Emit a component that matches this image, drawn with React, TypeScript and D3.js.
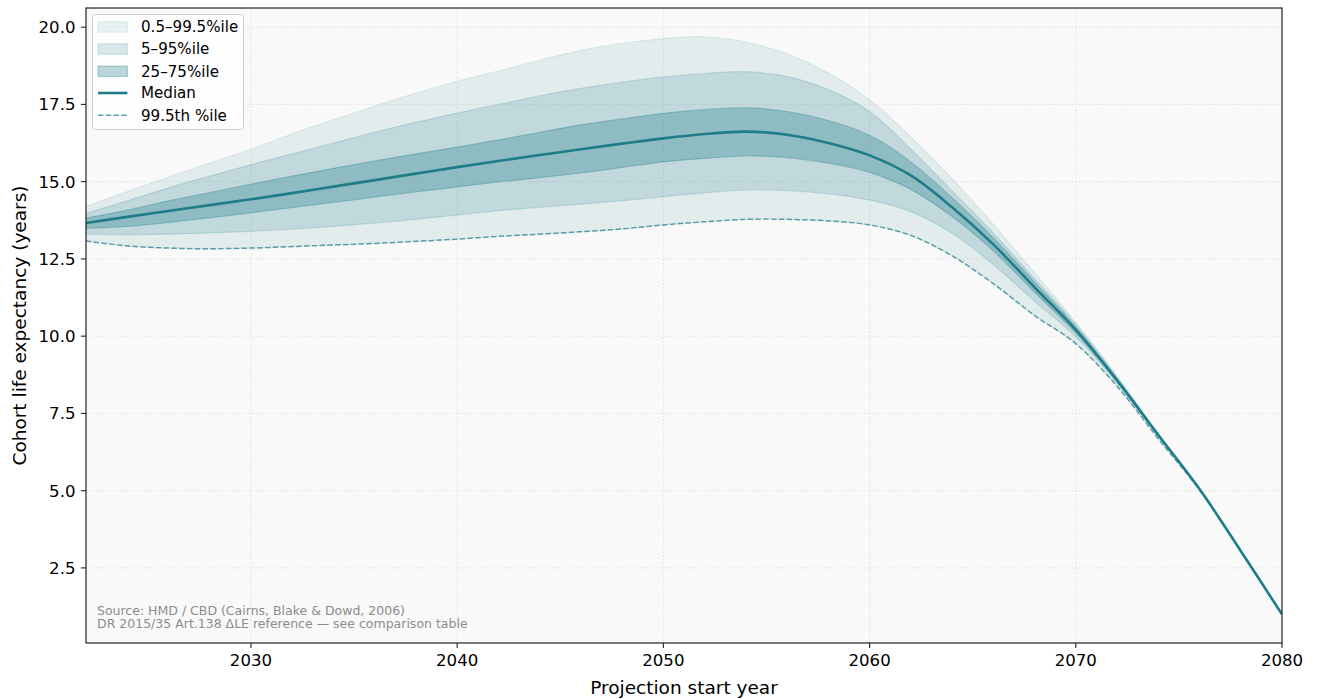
import React from "react";
import * as d3 from "d3";

const years = [2022, 2024, 2026, 2028, 2030, 2032, 2034, 2036, 2038, 2040, 2042, 2044, 2046, 2048, 2050, 2052, 2054, 2056, 2058, 2060, 2062, 2064, 2066, 2068, 2070, 2072, 2074, 2076, 2078, 2080];
const p995 = [14.2, 14.68, 15.15, 15.6, 16.05, 16.55, 17.0, 17.45, 17.87, 18.25, 18.58, 18.93, 19.25, 19.48, 19.63, 19.69, 19.52, 19.14, 18.52, 17.65, 16.45, 15.1, 13.62, 12.05, 10.45, 8.72, 6.86, 5.05, 3.05, 1.0];
const p95 = [13.97, 14.38, 14.8, 15.18, 15.55, 15.9, 16.25, 16.6, 16.92, 17.22, 17.5, 17.78, 18.02, 18.22, 18.39, 18.5, 18.56, 18.4, 17.98, 17.27, 16.05, 14.7, 13.33, 11.86, 10.38, 8.67, 6.83, 5.05, 3.05, 1.0];
const p75 = [13.82, 14.08, 14.38, 14.65, 14.92, 15.18, 15.43, 15.67, 15.9, 16.12, 16.35, 16.6, 16.84, 17.03, 17.21, 17.33, 17.39, 17.27, 16.98, 16.5, 15.64, 14.48, 13.18, 11.75, 10.3, 8.62, 6.81, 5.05, 3.05, 1.0];
const median = [13.66, 13.86, 14.05, 14.24, 14.43, 14.63, 14.84, 15.05, 15.26, 15.47, 15.67, 15.86, 16.05, 16.23, 16.4, 16.54, 16.62, 16.52, 16.25, 15.85, 15.2, 14.17, 12.97, 11.58, 10.2, 8.57, 6.8, 5.05, 3.05, 1.0];
const p25 = [13.49, 13.55, 13.68, 13.83, 13.99, 14.16, 14.33, 14.5, 14.67, 14.83, 14.99, 15.13, 15.28, 15.46, 15.64, 15.75, 15.83, 15.78, 15.6, 15.3, 14.75, 13.87, 12.76, 11.42, 10.1, 8.53, 6.78, 5.05, 3.05, 1.0];
const p5 = [13.3, 13.28, 13.3, 13.34, 13.39, 13.46, 13.55, 13.66, 13.78, 13.92, 14.06, 14.17, 14.27, 14.38, 14.51, 14.64, 14.73, 14.71, 14.6, 14.4, 14.03, 13.33, 12.32, 11.13, 9.98, 8.48, 6.76, 5.05, 3.05, 1.0];
const p005 = [13.08, 12.92, 12.85, 12.83, 12.85, 12.9, 12.95, 13.0, 13.07, 13.14, 13.23, 13.3, 13.38, 13.47, 13.6, 13.7, 13.78, 13.78, 13.73, 13.6, 13.26, 12.6, 11.7, 10.67, 9.76, 8.38, 6.68, 5.02, 3.05, 1.0];

const xTicks = [2030, 2040, 2050, 2060, 2070, 2080];
const yTicks = [2.5, 5.0, 7.5, 10.0, 12.5, 15.0, 17.5, 20.0];
const legendLabels = ["0.5–99.5%ile", "5–95%ile", "25–75%ile", "Median", "99.5th %ile"];
const sourceLines = ["Source: HMD / CBD (Cairns, Blake & Dowd, 2006)", "DR 2015/35 Art.138 ΔLE reference — see comparison table"];

const W = 1317, H = 699;
const L = 86, R = 1282, T = 8, B = 643;
const TEAL = "#1f7c89";
const FONT = "DejaVu Sans, sans-serif";

export default function App() {
  const x = d3.scaleLinear().domain([2022, 2080]).range([L, R]);
  const y = d3.scaleLinear().domain([0.07, 20.62]).range([B, T]);
  const curve = d3.curveCatmullRom.alpha(0.5);
  const band = (lo: number[], hi: number[]) =>
    d3.area<number>().x((_, i) => x(years[i])).y0((_, i) => y(lo[i])).y1((_, i) => y(hi[i])).curve(curve)(years) || "";
  const line = (v: number[]) =>
    d3.line<number>().x((_, i) => x(years[i])).y((_, i) => y(v[i])).curve(curve)(years) || "";

  const bands = [
    { lo: p005, hi: p995, a: 0.1 },
    { lo: p5, hi: p95, a: 0.17 },
    { lo: p25, hi: p75, a: 0.3 },
  ];

  const legX = 98, legW = 29.4;
  const rowY = [27, 49, 71.3, 93, 115.3];

  return (
    <svg width={W} height={H} style={{ position: "absolute", left: 0, top: 0, background: "#ffffff" }} fontFamily={FONT}>
      <defs>
        <clipPath id="plotclip"><rect x={L} y={T} width={R - L} height={B - T} /></clipPath>
      </defs>
      <rect x={L} y={T} width={R - L} height={B - T} fill="#f9f9f9" />
      {xTicks.filter(t => t < 2080).map(t => (
        <line key={"gx" + t} x1={x(t)} x2={x(t)} y1={T} y2={B} stroke="#d4d4d4" strokeWidth={0.8} strokeDasharray="1.2,2.2" />
      ))}
      {yTicks.map(t => (
        <line key={"gy" + t} x1={L} x2={R} y1={y(t)} y2={y(t)} stroke="#d4d4d4" strokeWidth={0.8} strokeDasharray="1.2,2.2" />
      ))}
      <g clipPath="url(#plotclip)">
        {bands.map((b, i) => (
          <path key={"b" + i} d={band(b.lo, b.hi)} fill={TEAL} fillOpacity={b.a} stroke={TEAL} strokeOpacity={b.a} strokeWidth={1.2} />
        ))}
        <path d={line(p005)} fill="none" stroke={TEAL} strokeOpacity={0.7} strokeWidth={1.47} strokeDasharray="5.4,2.4" />
        <path d={line(median)} fill="none" stroke={TEAL} strokeWidth={2.6} />
      </g>
      {sourceLines.map((s, i) => (
        <text key={"s" + i} x={97} y={615 + i * 13.4} fontSize={12.5} fill="#8c8c8c">{s}</text>
      ))}
      <rect x={L} y={T} width={R - L} height={B - T} fill="none" stroke="#222" strokeWidth={1.2} />
      {xTicks.map(t => (
        <g key={"xt" + t}>
          <line x1={x(t)} x2={x(t)} y1={B} y2={B + 5.1} stroke="#222" strokeWidth={1.1} />
          <text x={x(t)} y={B + 5.1 + 5.1 + 12.6} fontSize={16.6} textAnchor="middle" fill="#000">{t}</text>
        </g>
      ))}
      {yTicks.map(t => (
        <g key={"yt" + t}>
          <line x1={L - 5.1} x2={L} y1={y(t)} y2={y(t)} stroke="#222" strokeWidth={1.1} />
          <text x={L - 10.5} y={y(t)} dy="0.36em" fontSize={16.6} textAnchor="end" fill="#000">{t.toFixed(1)}</text>
        </g>
      ))}
      <text x={(L + R) / 2} y={693.5} fontSize={18.5} textAnchor="middle" fill="#000">Projection start year</text>
      <text transform={`translate(25.5,${(T + B) / 2}) rotate(-90)`} fontSize={18.5} textAnchor="middle" fill="#000">Cohort life expectancy (years)</text>
      <rect x={92.5} y={14.5} width={151} height={115} rx={3} fill="#ffffff" fillOpacity={0.8} stroke="#cccccc" strokeWidth={1} />
      {bands.map((b, i) => (
        <rect key={"lp" + i} x={legX} y={rowY[i] - 5.2} width={legW} height={10.4} fill={TEAL} fillOpacity={b.a} stroke={TEAL} strokeOpacity={b.a} strokeWidth={1.2} />
      ))}
      <line x1={legX} x2={legX + legW} y1={rowY[3]} y2={rowY[3]} stroke={TEAL} strokeWidth={2.6} />
      <line x1={legX} x2={legX + legW} y1={rowY[4]} y2={rowY[4]} stroke={TEAL} strokeOpacity={0.7} strokeWidth={1.47} strokeDasharray="5.4,2.4" />
      {legendLabels.map((lab, i) => (
        <text key={"ll" + i} x={141} y={rowY[i]} dy="0.36em" fontSize={15.1} fill="#000">{lab}</text>
      ))}
    </svg>
  );
}
